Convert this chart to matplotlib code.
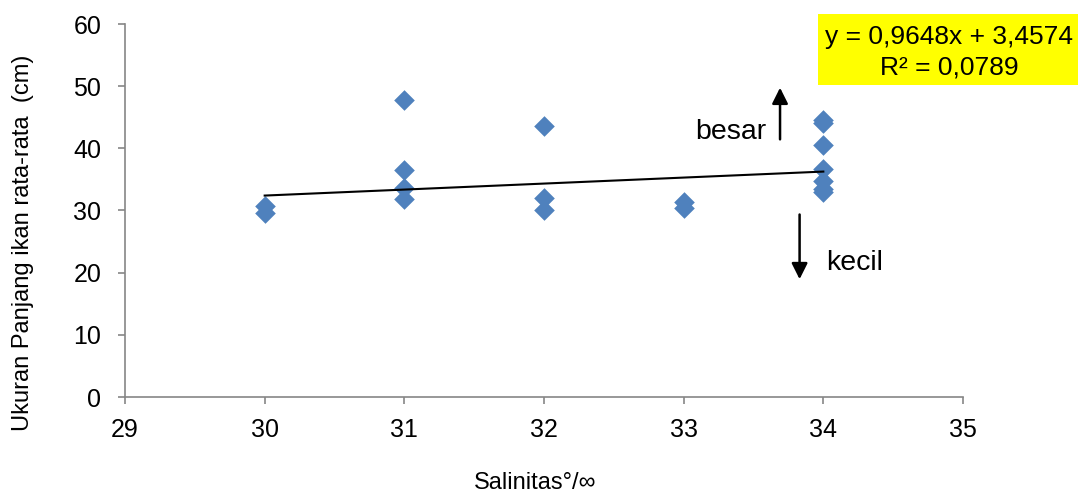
import matplotlib
matplotlib.use("Agg")
import matplotlib.pyplot as plt
from matplotlib.patches import Rectangle

plt.rcParams['font.family'] = ['Liberation Sans', 'DejaVu Sans']

# Data
salinity = [30, 30, 31, 31, 31, 31, 32, 32, 32, 33, 33, 34, 34, 34, 34, 34, 34, 34]
length_cm = [30.8, 29.6, 47.7, 36.5, 33.6, 31.9, 43.6, 32.0, 30.1, 31.4, 30.4,
             44.6, 44.0, 40.5, 36.6, 34.8, 33.5, 32.9]
slope = 0.9648
intercept = 3.4574
r2_text = "R² = 0,0789"
eq_text = "y = 0,9648x + 3,4574"
x_ticks = [29, 30, 31, 32, 33, 34, 35]
y_ticks = [0, 10, 20, 30, 40, 50, 60]

W, H = 1080, 498
fig = plt.figure(figsize=(W / 100, H / 100), dpi=100)
ax = fig.add_axes([125 / W, 1 - 397 / H, (963 - 125) / W, (397 - 24) / H])

ax.scatter(salinity, length_cm, marker='D', s=10.5 ** 2, color='#4F81BD', zorder=3, linewidths=0)
xl = [min(salinity), max(salinity)]
ax.plot(xl, [slope * v + intercept for v in xl], color='black', lw=1.5, zorder=4)

ax.set_xlim(29, 35)
ax.set_ylim(0, 60)
ax.set_xticks(x_ticks)
ax.set_yticks(y_ticks)
for s in ['top', 'right']:
    ax.spines[s].set_visible(False)
for s in ['left', 'bottom']:
    ax.spines[s].set_color('#868686')
    ax.spines[s].set_linewidth(1.2)
ax.tick_params(axis='both', direction='out', length=5, width=1.2, color='#868686',
               labelsize=18, labelcolor='black')
ax.tick_params(axis='x', pad=10)
ax.tick_params(axis='y', pad=12)

# arrows and labels
ax.annotate('', xy=(33.69, 50.2), xytext=(33.69, 41.0),
            arrowprops=dict(arrowstyle='-|>', color='black', lw=1.8, mutation_scale=24))
ax.annotate('', xy=(33.83, 18.5), xytext=(33.83, 29.8),
            arrowprops=dict(arrowstyle='-|>', color='black', lw=1.8, mutation_scale=24))
ax.text(33.59, 42.6, 'besar', ha='right', va='center', fontsize=20.5)
ax.text(34.02, 21.6, 'kecil', ha='left', va='center', fontsize=20.5)

# equation box
fig.patches.append(Rectangle((818 / W, 1 - 85 / H), (1078 - 818) / W, (85 - 14) / H,
                             transform=fig.transFigure, facecolor='#FFFF00', edgecolor='none', zorder=5))
fig.text(949 / W, 1 - 37 / H, eq_text, ha='center', va='center', fontsize=19, zorder=6)
fig.text(949 / W, 1 - 67 / H, r2_text, ha='center', va='center', fontsize=19, zorder=6)

fig.text(535 / W, 1 - 483 / H, 'Salinitas°/∞', ha='center', va='center', fontsize=17)
fig.text(23 / W, 1 - 243 / H, 'Ukuran Panjang ikan rata-rata  (cm)', ha='center', va='center',
         rotation=90, fontsize=17)

fig.savefig('out.png', dpi=100)
